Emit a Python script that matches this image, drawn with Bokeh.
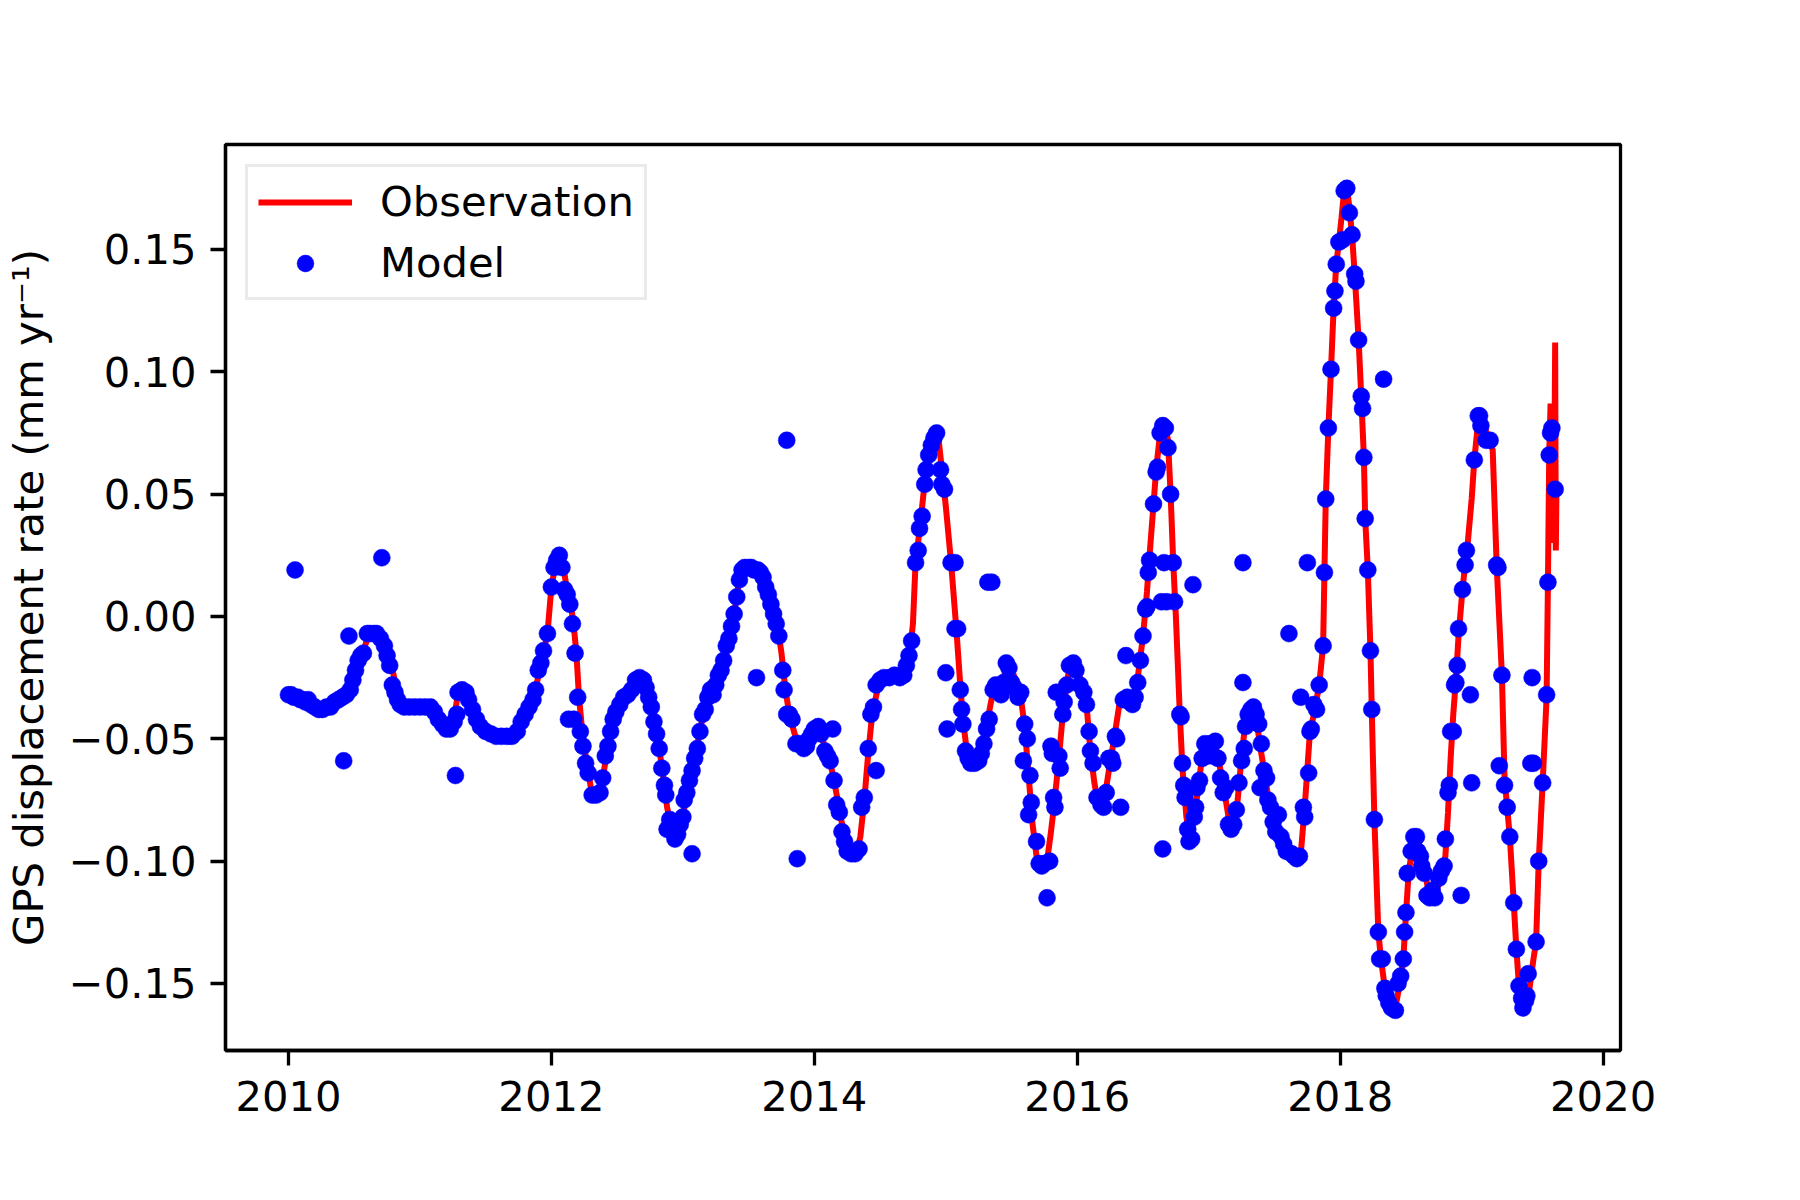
from bokeh.plotting import figure
from bokeh.models import Range1d, FixedTicker, CustomJSTickFormatter, Legend, LegendItem
from bokeh.embed import file_html
from bokeh.resources import INLINE

# ---------------- data ----------------
obs_year = [
    2010.00, 2010.08, 2010.17, 2010.25, 2010.34, 2010.40, 2010.47, 2010.52, 2010.56, 2010.60,
    2010.65, 2010.69, 2010.73, 2010.78, 2010.82, 2010.86, 2010.92, 2011.05, 2011.11, 2011.17,
    2011.22, 2011.26, 2011.29, 2011.34, 2011.39, 2011.44, 2011.50, 2011.60, 2011.70, 2011.75,
    2011.80, 2011.85, 2011.89, 2011.93, 2011.97, 2012.00, 2012.03, 2012.06, 2012.09, 2012.12,
    2012.15, 2012.17, 2012.19, 2012.21, 2012.24, 2012.27, 2012.30, 2012.33, 2012.37, 2012.40,
    2012.43, 2012.46, 2012.50, 2012.55, 2012.61, 2012.66, 2012.70, 2012.73, 2012.76, 2012.79,
    2012.82, 2012.85, 2012.88, 2012.92, 2012.95, 2012.98, 2013.02, 2013.06, 2013.10, 2013.14,
    2013.18, 2013.22, 2013.27, 2013.31, 2013.35, 2013.39, 2013.42, 2013.45, 2013.50, 2013.56,
    2013.61, 2013.65, 2013.69, 2013.72, 2013.75, 2013.78, 2013.81, 2013.85, 2013.90, 2013.96,
    2014.01, 2014.05, 2014.09, 2014.13, 2014.16, 2014.20, 2014.24, 2014.28, 2014.32, 2014.35,
    2014.38, 2014.41, 2014.44, 2014.48, 2014.52, 2014.58, 2014.65, 2014.70, 2014.73, 2014.75,
    2014.77, 2014.80, 2014.83, 2014.86, 2014.89, 2014.92, 2014.94, 2014.97, 2015.00, 2015.04,
    2015.08, 2015.11, 2015.13, 2015.16, 2015.20, 2015.25, 2015.28, 2015.31, 2015.34, 2015.37,
    2015.41, 2015.44, 2015.47, 2015.50, 2015.54, 2015.57, 2015.60, 2015.63, 2015.66, 2015.69,
    2015.73, 2015.77, 2015.80, 2015.83, 2015.86, 2015.89, 2015.93, 2015.97, 2016.00, 2016.04,
    2016.07, 2016.10, 2016.13, 2016.16, 2016.20, 2016.24, 2016.28, 2016.32, 2016.36, 2016.42,
    2016.46, 2016.50, 2016.53, 2016.55, 2016.58, 2016.60, 2016.63, 2016.66, 2016.69, 2016.71,
    2016.73, 2016.75, 2016.78, 2016.80, 2016.83, 2016.86, 2016.89, 2016.92, 2016.95, 2016.99,
    2017.05, 2017.09, 2017.12, 2017.16, 2017.19, 2017.22, 2017.25, 2017.28, 2017.31, 2017.34,
    2017.37, 2017.40, 2017.43, 2017.47, 2017.52, 2017.57, 2017.62, 2017.67, 2017.70, 2017.73,
    2017.77, 2017.80, 2017.84, 2017.87, 2017.88, 2017.89, 2017.91, 2017.93, 2017.95, 2017.97,
    2017.99, 2018.01, 2018.03, 2018.05, 2018.07, 2018.09, 2018.11, 2018.14, 2018.16, 2018.18,
    2018.19, 2018.21, 2018.23, 2018.24, 2018.26, 2018.29, 2018.31, 2018.34, 2018.37, 2018.40,
    2018.43, 2018.46, 2018.48, 2018.50, 2018.52, 2018.55, 2018.59, 2018.63, 2018.67, 2018.72,
    2018.76, 2018.80, 2018.82, 2018.84, 2018.86, 2018.88, 2018.90, 2018.93, 2018.95, 2018.97,
    2019.00, 2019.02, 2019.05, 2019.07, 2019.10, 2019.13, 2019.16, 2019.19, 2019.23, 2019.25,
    2019.27, 2019.29, 2019.32, 2019.34, 2019.36, 2019.38, 2019.41, 2019.44, 2019.47, 2019.49,
    2019.51, 2019.54, 2019.57, 2019.58, 2019.59, 2019.60, 2019.61, 2019.615, 2019.625, 2019.635,
    2019.64, 2019.645,
]
obs_rate = [
    -0.032, -0.033, -0.035, -0.037, -0.036, -0.034, -0.030, -0.023, -0.016, -0.009,
    -0.007, -0.007, -0.011, -0.019, -0.029, -0.035, -0.037, -0.037, -0.039, -0.044,
    -0.046, -0.042, -0.031, -0.031, -0.036, -0.043, -0.047, -0.049, -0.049, -0.046,
    -0.040, -0.035, -0.027, -0.017, -0.007, 0.012, 0.021, 0.025, 0.021, 0.010,
    0.004, -0.004, -0.015, -0.033, -0.050, -0.060, -0.070, -0.074, -0.072, -0.063,
    -0.053, -0.045, -0.038, -0.033, -0.030, -0.025, -0.026, -0.031, -0.037, -0.045,
    -0.054, -0.065, -0.078, -0.088, -0.091, -0.086, -0.076, -0.065, -0.055, -0.044,
    -0.036, -0.030, -0.025, -0.018, -0.009, 0.001, 0.012, 0.019, 0.020, 0.019,
    0.016, 0.010, 0.002, -0.004, -0.015, -0.030, -0.040, -0.048, -0.053, -0.050,
    -0.046, -0.048, -0.055, -0.062, -0.070, -0.082, -0.092, -0.097, -0.097, -0.090,
    -0.075, -0.056, -0.040, -0.030, -0.026, -0.025, -0.025, -0.021, -0.013, -0.003,
    0.022, 0.035, 0.050, 0.062, 0.070, 0.074, 0.075, 0.060, 0.045, 0.022,
    -0.005, -0.028, -0.042, -0.055, -0.060, -0.058, -0.053, -0.045, -0.036, -0.028,
    -0.029, -0.025, -0.019, -0.021, -0.028, -0.033, -0.045, -0.065, -0.085, -0.098,
    -0.102, -0.100, -0.088, -0.074, -0.058, -0.040, -0.024, -0.019, -0.021, -0.029,
    -0.036, -0.055, -0.068, -0.077, -0.077, -0.063, -0.050, -0.036, -0.034, -0.034,
    -0.025, -0.008, 0.010, 0.025, 0.046, 0.060, 0.075, 0.081, 0.072, 0.050,
    0.022, 0.000, -0.040, -0.062, -0.082, -0.091, -0.082, -0.070, -0.057, -0.052,
    -0.052, -0.063, -0.072, -0.085, -0.086, -0.075, -0.057, -0.043, -0.038, -0.038,
    -0.045, -0.056, -0.066, -0.080, -0.088, -0.093, -0.097, -0.099, -0.097, -0.078,
    -0.047, -0.040, -0.028, -0.012, 0.018, 0.048, 0.077, 0.101, 0.126, 0.144,
    0.153, 0.163, 0.174, 0.176, 0.167, 0.156, 0.140, 0.113, 0.090, 0.065,
    0.040, 0.019, -0.014, -0.038, -0.083, -0.129, -0.140, -0.152, -0.158, -0.161,
    -0.157, -0.148, -0.140, -0.122, -0.105, -0.094, -0.091, -0.100, -0.112, -0.115,
    -0.107, -0.098, -0.080, -0.058, -0.040, -0.026, -0.008, 0.011, 0.021, 0.030,
    0.048, 0.064, 0.080, 0.081, 0.077, 0.073, 0.068, 0.021, -0.024, -0.066,
    -0.078, -0.090, -0.117, -0.136, -0.151, -0.156, -0.158, -0.152, -0.140, -0.133,
    -0.100, -0.068, -0.033, 0.014, 0.067, 0.087, 0.040, 0.078, 0.030, 0.112,
    0.027, 0.052,
]

model_year = [
    2010.00, 2010.02, 2010.04, 2010.05, 2010.07, 2010.09, 2010.11, 2010.13, 2010.15, 2010.17,
    2010.20, 2010.23, 2010.26, 2010.29, 2010.32, 2010.35, 2010.38, 2010.41, 2010.42, 2010.44,
    2010.46, 2010.47, 2010.49, 2010.51, 2010.53, 2010.55, 2010.57, 2010.60, 2010.62, 2010.65,
    2010.67, 2010.70, 2010.71, 2010.73, 2010.75, 2010.77, 2010.79, 2010.81, 2010.83, 2010.85,
    2010.88, 2010.92, 2010.96, 2011.00, 2011.04, 2011.08, 2011.11, 2011.14, 2011.17, 2011.20,
    2011.23, 2011.26, 2011.27, 2011.28, 2011.29, 2011.32, 2011.35, 2011.37, 2011.40, 2011.43,
    2011.46, 2011.50, 2011.54, 2011.58, 2011.62, 2011.66, 2011.70, 2011.74, 2011.77, 2011.80,
    2011.83, 2011.86, 2011.88, 2011.90, 2011.92, 2011.94, 2011.97, 2012.00, 2012.02, 2012.04,
    2012.06, 2012.08, 2012.10, 2012.12, 2012.14, 2012.16, 2012.18, 2012.20, 2012.13, 2012.17,
    2012.22, 2012.24, 2012.26, 2012.28, 2012.31, 2012.34, 2012.37, 2012.39, 2012.41, 2012.43,
    2012.45, 2012.47, 2012.49, 2012.52, 2012.55, 2012.58, 2012.61, 2012.64, 2012.67, 2012.70,
    2012.72, 2012.74, 2012.76, 2012.78, 2012.80, 2012.82, 2012.84, 2012.86, 2012.87, 2012.88,
    2012.90, 2012.92, 2012.94, 2012.96, 2012.98, 2013.00, 2013.01, 2013.03, 2013.05, 2013.07,
    2013.07, 2013.09, 2013.11, 2013.13, 2013.15, 2013.17, 2013.19, 2013.21, 2013.23, 2013.25,
    2013.27, 2013.29, 2013.31, 2013.33, 2013.35, 2013.37, 2013.39, 2013.41, 2013.43, 2013.45,
    2013.47, 2013.50, 2013.52, 2013.54, 2013.56, 2013.57, 2013.59, 2013.61, 2013.63, 2013.65,
    2013.67, 2013.69, 2013.71, 2013.73, 2013.76, 2013.77, 2013.79, 2013.79, 2013.81, 2013.83,
    2013.86, 2013.87, 2013.89, 2013.92, 2013.94, 2013.96, 2013.98, 2014.00, 2014.03, 2014.05,
    2014.08, 2014.10, 2014.12, 2014.14, 2014.15, 2014.17, 2014.19, 2014.21, 2014.23, 2014.25,
    2014.28, 2014.31, 2014.34, 2014.36, 2014.38, 2014.41, 2014.43, 2014.45, 2014.47, 2014.47,
    2014.50, 2014.53, 2014.57, 2014.61, 2014.65, 2014.68, 2014.70, 2014.72, 2014.74, 2014.77,
    2014.79, 2014.80, 2014.82, 2014.84, 2014.85, 2014.87, 2014.89, 2014.91, 2014.93, 2014.96,
    2014.97, 2014.99, 2015.00, 2015.01, 2015.04, 2015.07, 2015.07, 2015.09, 2015.11, 2015.12,
    2015.13, 2015.15, 2015.17, 2015.19, 2015.22, 2015.25, 2015.27, 2015.29, 2015.31, 2015.32,
    2015.33, 2015.35, 2015.36, 2015.38, 2015.40, 2015.42, 2015.44, 2015.46, 2015.48, 2015.50,
    2015.52, 2015.55, 2015.57, 2015.59, 2015.60, 2015.62, 2015.64, 2015.65, 2015.63, 2015.69,
    2015.71, 2015.73, 2015.75, 2015.77, 2015.79, 2015.80, 2015.81, 2015.82, 2015.83, 2015.84,
    2015.86, 2015.87, 2015.89, 2015.90, 2015.92, 2015.94, 2015.97, 2015.99, 2016.02, 2016.05,
    2016.07, 2016.09, 2016.10, 2016.12, 2016.15, 2016.18, 2016.20, 2016.22, 2016.24, 2016.26,
    2016.27, 2016.29, 2016.30, 2016.33, 2016.35, 2016.37, 2016.38, 2016.40, 2016.42, 2016.44,
    2016.46, 2016.48, 2016.50, 2016.52, 2016.53, 2016.54, 2016.55, 2016.58, 2016.60, 2016.61,
    2016.63, 2016.64, 2016.65, 2016.65, 2016.66, 2016.67, 2016.68, 2016.69, 2016.71, 2016.73,
    2016.74, 2016.78, 2016.79, 2016.80, 2016.81, 2016.82, 2016.84, 2016.85, 2016.87, 2016.88,
    2016.89, 2016.90, 2016.91, 2016.93, 2016.95, 2016.97, 2016.99, 2017.01, 2017.03, 2017.05,
    2017.07, 2017.09, 2017.11, 2017.13, 2017.15, 2017.17, 2017.19, 2017.21, 2017.23, 2017.26,
    2017.26, 2017.25, 2017.27, 2017.28, 2017.30, 2017.32, 2017.34, 2017.36, 2017.38, 2017.39,
    2017.40, 2017.42, 2017.44, 2017.45, 2017.47, 2017.49, 2017.51, 2017.53, 2017.55, 2017.57,
    2017.59, 2017.61, 2017.63, 2017.65, 2017.67, 2017.69, 2017.70, 2017.72, 2017.73, 2017.75,
    2017.76, 2017.77, 2017.78, 2017.80, 2017.82, 2017.84, 2017.87, 2017.88, 2017.89, 2017.91,
    2017.93, 2017.95, 2017.96, 2017.97, 2017.99, 2018.02, 2018.03, 2018.05, 2018.07, 2018.09,
    2018.11, 2018.12, 2018.14, 2018.16, 2018.17, 2018.18, 2018.19, 2018.21, 2018.23, 2018.24,
    2018.26, 2018.29, 2018.30, 2018.32, 2018.33, 2018.34, 2018.35, 2018.37, 2018.39, 2018.42,
    2018.44, 2018.46, 2018.48, 2018.49, 2018.50, 2018.51, 2018.54, 2018.56, 2018.58, 2018.59,
    2018.61, 2018.62, 2018.64, 2018.66, 2018.68, 2018.70, 2018.72, 2018.75, 2018.77, 2018.79,
    2018.80, 2018.82, 2018.83, 2018.84, 2018.86, 2018.87, 2018.88, 2018.89, 2018.90, 2018.92,
    2018.93, 2018.95, 2018.96, 2018.99, 2019.00, 2019.02, 2019.05, 2019.06, 2019.07, 2019.11,
    2019.14, 2019.19, 2019.20, 2019.21, 2019.23, 2019.25, 2019.27, 2019.29, 2019.32, 2019.34,
    2019.36, 2019.38, 2019.39, 2019.41, 2019.42, 2019.43, 2019.45, 2019.46, 2019.47, 2019.49,
    2019.51, 2019.54, 2019.57, 2019.58, 2019.59, 2019.60, 2019.61, 2019.635,
]
model_rate = [
    -0.032, -0.032, -0.033, 0.019, -0.033, -0.034, -0.034, -0.035, -0.034, -0.036,
    -0.037, -0.038, -0.038, -0.037, -0.037, -0.035, -0.034, -0.033, -0.059, -0.032,
    -0.008, -0.030, -0.026, -0.022, -0.018, -0.016, -0.015, -0.007, -0.007, -0.007,
    -0.007, -0.009, 0.024, -0.012, -0.016, -0.020, -0.028, -0.031, -0.034, -0.036,
    -0.037, -0.037, -0.037, -0.037, -0.037, -0.037, -0.039, -0.042, -0.044, -0.046,
    -0.046, -0.043, -0.065, -0.040, -0.031, -0.030, -0.031, -0.034, -0.038, -0.042,
    -0.045, -0.047, -0.048, -0.049, -0.049, -0.049, -0.049, -0.047, -0.043, -0.040,
    -0.037, -0.034, -0.030, -0.022, -0.019, -0.014, -0.007, 0.012, 0.020, 0.023,
    0.025, 0.020, 0.011, 0.009, 0.005, -0.003, -0.015, -0.033, -0.042, -0.042,
    -0.047, -0.053, -0.060, -0.064, -0.073, -0.073, -0.072, -0.066, -0.057, -0.053,
    -0.047, -0.042, -0.039, -0.036, -0.033, -0.032, -0.030, -0.026, -0.025, -0.026,
    -0.029, -0.033, -0.037, -0.043, -0.048, -0.054, -0.062, -0.069, -0.073, -0.087,
    -0.083, -0.088, -0.091, -0.089, -0.085, -0.082, -0.075, -0.072, -0.067, -0.097,
    -0.063, -0.058, -0.054, -0.047, -0.040, -0.038, -0.033, -0.030, -0.032, -0.028,
    -0.024, -0.022, -0.018, -0.012, -0.009, -0.004, 0.001, 0.008, 0.015, 0.019,
    0.020, 0.020, 0.020, 0.019, -0.025, 0.019, 0.018, 0.016, 0.012, 0.009,
    0.005, 0.001, -0.003, -0.008, -0.022, -0.030, 0.072, -0.040, -0.040, -0.042,
    -0.052, -0.099, -0.052, -0.054, -0.053, -0.050, -0.048, -0.046, -0.045, -0.048,
    -0.055, -0.057, -0.059, -0.046, -0.067, -0.077, -0.080, -0.088, -0.092, -0.096,
    -0.097, -0.097, -0.095, -0.078, -0.074, -0.054, -0.040, -0.037, -0.063, -0.028,
    -0.026, -0.025, -0.025, -0.024, -0.025, -0.024, -0.020, -0.016, -0.010, 0.022,
    0.027, 0.036, 0.041, 0.054, 0.060, 0.066, 0.070, 0.073, 0.075, 0.060,
    0.054, 0.052, -0.023, -0.046, 0.022, 0.022, -0.005, -0.005, -0.030, -0.038,
    -0.044, -0.055, -0.058, -0.060, -0.060, -0.059, -0.056, -0.052, -0.046, 0.014,
    -0.042, 0.014, -0.030, -0.028, -0.029, -0.032, -0.027, -0.019, -0.021, -0.027,
    -0.029, -0.033, -0.031, -0.059, -0.044, -0.050, -0.065, -0.076, -0.081, -0.092,
    -0.101, -0.102, -0.101, -0.115, -0.100, -0.053, -0.056, -0.074, -0.078, -0.031,
    -0.057, -0.062, -0.040, -0.035, -0.028, -0.020, -0.019, -0.022, -0.028, -0.031,
    -0.036, -0.047, -0.055, -0.060, -0.074, -0.077, -0.078, -0.072, -0.058, -0.058,
    -0.060, -0.049, -0.050, -0.078, -0.034, -0.016, -0.033, -0.035, -0.036, -0.033,
    -0.027, -0.018, -0.008, 0.003, 0.004, 0.018, 0.023, 0.046, 0.059, 0.061,
    0.075, 0.006, 0.078, -0.095, 0.022, 0.077, 0.006, 0.069, 0.050, 0.022,
    0.006, -0.040, -0.041, -0.060, -0.069, -0.074, -0.087, -0.092, -0.091, 0.013,
    -0.082, -0.078, -0.070, -0.067, -0.058, -0.052, -0.057, -0.052, -0.057, -0.051,
    -0.058, -0.066, -0.072, -0.070, -0.085, -0.087, -0.085, -0.079, -0.068, 0.022,
    -0.027, -0.059, -0.054, -0.045, -0.040, -0.038, -0.037, -0.040, -0.044, -0.070,
    -0.052, -0.063, -0.066, -0.075, -0.078, -0.084, -0.088, -0.081, -0.090, -0.093,
    -0.096, -0.007, -0.097, -0.098, -0.099, -0.098, -0.033, -0.078, -0.082, 0.022,
    -0.064, -0.047, -0.046, -0.036, -0.038, -0.028, -0.012, 0.018, 0.048, 0.077,
    0.101, 0.126, 0.133, 0.144, 0.153, 0.154, 0.174, 0.175, 0.165, 0.156,
    0.140, 0.137, 0.113, 0.090, 0.085, 0.065, 0.040, 0.019, -0.014, -0.038,
    -0.083, -0.129, -0.140, -0.140, 0.097, -0.152, -0.155, -0.158, -0.160, -0.161,
    -0.150, -0.147, -0.140, -0.129, -0.121, -0.105, -0.096, -0.090, -0.090, -0.096,
    -0.098, -0.102, -0.105, -0.114, -0.115, -0.112, -0.115, -0.107, -0.104, -0.102,
    -0.091, -0.072, -0.069, -0.047, -0.047, -0.028, -0.027, -0.020, -0.005, -0.114,
    0.011, 0.021, 0.027, -0.032, -0.068, 0.064, 0.082, 0.082, 0.078, 0.072,
    0.072, 0.021, 0.020, -0.061, -0.024, -0.069, -0.078, -0.090, -0.117, -0.136,
    -0.151, -0.156, -0.160, -0.157, -0.155, -0.146, -0.060, -0.025, -0.060, -0.133,
    -0.100, -0.068, -0.032, 0.014, 0.066, 0.075, 0.077, 0.052,
]

x_ticks = [2010, 2012, 2014, 2016, 2018, 2020]
y_ticks = [-0.15, -0.10, -0.05, 0.00, 0.05, 0.10, 0.15]
series_labels = ["Observation", "Model"]
y_title = "GPS displacement rate (mm yr\u207b\u00b9)"

FONT = "DejaVu Sans"
FS = "41.7px"

p = figure(
    width=1800, height=1200,
    output_backend="svg", toolbar_location=None,
    x_range=Range1d(2009.521, 2020.132),
    y_range=Range1d(-0.1774, 0.1929),
    min_border_left=225, min_border_right=180,
    min_border_top=144, min_border_bottom=150,
    background_fill_color="white", border_fill_color="white",
)

line_r = p.line(obs_year, obs_rate, line_color="#ff0000", line_width=6)
dot_r = p.scatter(model_year, model_rate, marker="circle", size=17,
                  fill_color="#0000ff", line_color="#0000ff", line_width=0.5)

p.xgrid.grid_line_color = None
p.ygrid.grid_line_color = None
p.outline_line_color = "black"
p.outline_line_width = 3.3
p.outline_line_alpha = 1.0

p.xaxis.ticker = FixedTicker(ticks=x_ticks)
p.yaxis.ticker = FixedTicker(ticks=y_ticks)
p.xaxis.formatter = CustomJSTickFormatter(code="return tick.toFixed(0);")
p.yaxis.formatter = CustomJSTickFormatter(
    code="return (tick < -1e-9 ? '\u2212' : '') + Math.abs(tick).toFixed(2);")

for ax in (p.xaxis[0], p.yaxis[0]):
    ax.axis_line_color = "black"
    ax.axis_line_width = 3.3
    ax.major_tick_in = 0
    ax.major_tick_out = 15
    ax.major_tick_line_width = 3.3
    ax.major_tick_line_color = "black"
    ax.minor_tick_line_color = None
    ax.major_label_text_font = FONT
    ax.major_label_text_font_size = FS
    ax.major_label_text_color = "black"

p.xaxis.major_label_standoff = 15
p.yaxis.major_label_standoff = 14

p.yaxis.axis_label = y_title
p.yaxis.axis_label_text_font = FONT
p.yaxis.axis_label_text_font_size = FS
p.yaxis.axis_label_text_font_style = "normal"
p.yaxis.axis_label_text_color = "black"
p.yaxis.axis_label_standoff = 13

legend = Legend(
    items=[LegendItem(label=series_labels[0], renderers=[line_r]),
           LegendItem(label=series_labels[1], renderers=[dot_r])],
    location="top_left",
    margin=20, padding=10, spacing=12,
    glyph_width=94, glyph_height=42, label_height=42,
    label_standoff=28,
    label_text_font=FONT, label_text_font_size=FS, label_text_color="black",
    border_line_color="#d6d6d6", border_line_width=3.3,
    background_fill_color="white", background_fill_alpha=0.8,
)
p.add_layout(legend)

open("out.html", "w").write(file_html(p, INLINE))
